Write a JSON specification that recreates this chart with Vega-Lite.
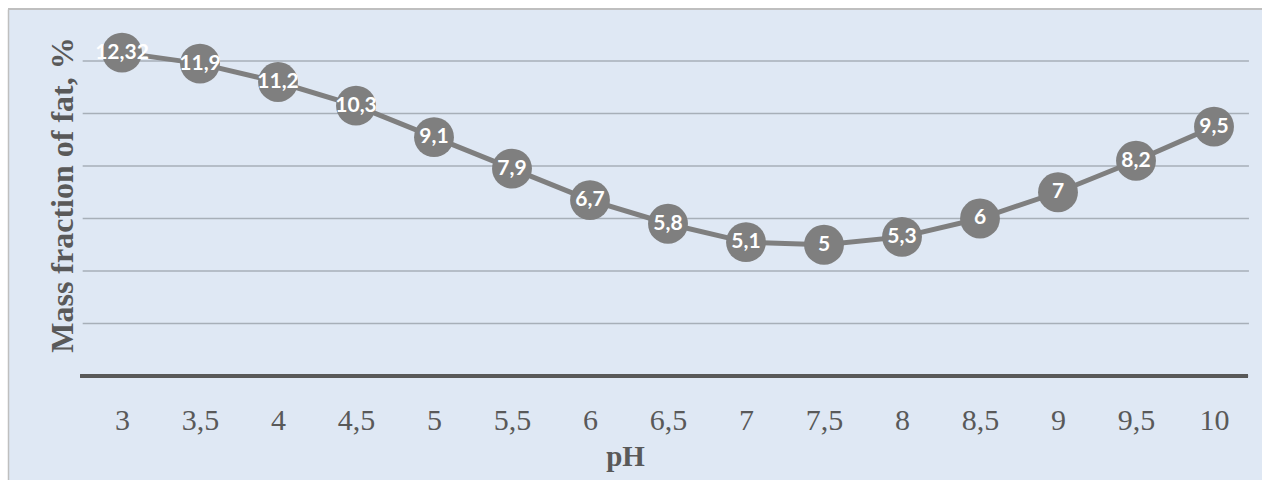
{
  "$schema": "https://vega.github.io/schema/vega-lite/v6.json",
  "width": 1254,
  "height": 471,
  "autosize": {"type": "none"},
  "padding": {"left": 8, "top": 9, "right": 0, "bottom": 0},
  "background": "#ffffff",
  "config": {
    "view": {"fill": "#dfe8f4", "stroke": null},
    "locale": {
      "number": {"decimal": ",", "thousands": " ", "grouping": [3], "currency": ["", ""]}
    }
  },
  "data": {
    "values": [
      {"ph": 3, "fat": 12.32},
      {"ph": 3.5, "fat": 11.9},
      {"ph": 4, "fat": 11.2},
      {"ph": 4.5, "fat": 10.3},
      {"ph": 5, "fat": 9.1},
      {"ph": 5.5, "fat": 7.9},
      {"ph": 6, "fat": 6.7},
      {"ph": 6.5, "fat": 5.8},
      {"ph": 7, "fat": 5.1},
      {"ph": 7.5, "fat": 5.0},
      {"ph": 8, "fat": 5.3},
      {"ph": 8.5, "fat": 6.0},
      {"ph": 9, "fat": 7.0},
      {"ph": 9.5, "fat": 8.2},
      {"ph": 10, "fat": 9.5}
    ]
  },
  "layer": [
    {
      "mark": {"type": "rule", "stroke": "#bfbfbf", "strokeWidth": 1.5},
      "encoding": {
        "x": {"datum": 2.26923, "type": "quantitative"},
        "x2": {"datum": 10.3077},
        "y": {"datum": 13.981, "type": "quantitative"}
      }
    },
    {
      "data": {"values": [{"g": 2}, {"g": 4}, {"g": 6}, {"g": 8}, {"g": 10}, {"g": 12}]},
      "mark": {"type": "rule", "stroke": "#a7afb8", "strokeWidth": 1.3},
      "encoding": {
        "x": {"datum": 2.748, "type": "quantitative"},
        "x2": {"datum": 10.224},
        "y": {"field": "g", "type": "quantitative"}
      }
    },
    {
      "mark": {"type": "line", "stroke": "#7f7f7f", "strokeWidth": 5},
      "encoding": {
        "x": {
          "field": "ph",
          "type": "quantitative",
          "scale": {"domain": [2.26923, 10.3077], "nice": false, "zero": false},
          "axis": {
            "orient": "bottom",
            "offset": -104,
            "values": [3, 3.5, 4, 4.5, 5, 5.5, 6, 6.5, 7, 7.5, 8, 8.5, 9, 9.5, 10],
            "format": ".1~f",
            "domain": false,
            "ticks": false,
            "grid": false,
            "labelPadding": 53,
            "labelBaseline": "alphabetic",
            "labelFont": "Liberation Serif",
            "labelFontSize": 30,
            "labelColor": "#595959",
            "labelFlush": false,
            "labelOverlap": false,
            "title": "pH",
            "titleFont": "Liberation Serif",
            "titleFontSize": 29,
            "titleFontWeight": "bold",
            "titleColor": "#595959",
            "titleX": 617,
            "titleY": 89,
            "titleAlign": "center",
            "titleBaseline": "alphabetic"
          }
        },
        "y": {
          "field": "fat",
          "type": "quantitative",
          "scale": {"domain": [-3.962, 13.981], "nice": false, "zero": false},
          "axis": {
            "orient": "left",
            "labels": false,
            "ticks": false,
            "domain": true,
            "domainColor": "#bfbfbf",
            "domainWidth": 1.5,
            "grid": false,
            "title": "Mass fraction of fat, %",
            "titleFont": "Liberation Serif",
            "titleFontSize": 32,
            "titleFontWeight": "bold",
            "titleColor": "#595959",
            "titleAngle": -90,
            "titleX": 64,
            "titleY": 185.5,
            "titleAlign": "center",
            "titleBaseline": "alphabetic"
          }
        }
      }
    },
    {
      "mark": {"type": "rule", "stroke": "#595959", "strokeWidth": 3},
      "encoding": {
        "x": {"datum": 2.735, "type": "quantitative"},
        "x2": {"datum": 10.218},
        "y": {"datum": 0, "type": "quantitative"}
      }
    },
    {
      "mark": {"type": "point", "filled": true, "fill": "#7f7f7f", "opacity": 1, "size": 1590, "shape": "circle"},
      "encoding": {
        "x": {"field": "ph", "type": "quantitative"},
        "y": {"field": "fat", "type": "quantitative"}
      }
    },
    {
      "mark": {"type": "text", "font": "Lato", "fontWeight": "bold", "fontSize": 21, "fill": "#ffffff", "align": "center", "baseline": "middle"},
      "encoding": {
        "x": {"field": "ph", "type": "quantitative"},
        "y": {"field": "fat", "type": "quantitative"},
        "text": {"field": "fat", "type": "quantitative", "format": ".2~f"}
      }
    }
  ]
}
